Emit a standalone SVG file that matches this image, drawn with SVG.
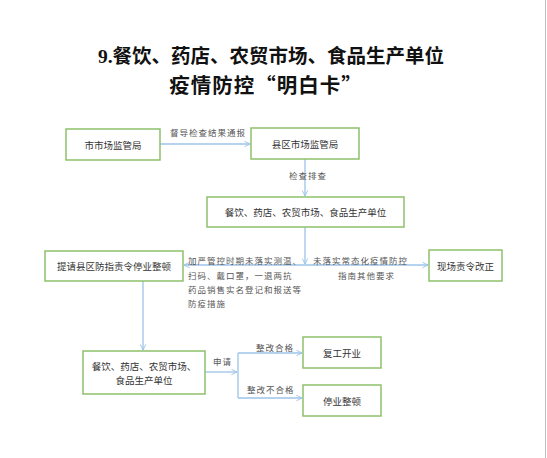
<svg xmlns="http://www.w3.org/2000/svg" width="547" height="458" viewBox="0 0 547 458">
<defs>
<style>
.box{fill:#fff;stroke:#8dc16a;stroke-width:1.5}
.ln{fill:none;stroke:#9cc3e8;stroke-width:1.3}
.t{font-family:"Noto Sans CJK SC","Liberation Serif",sans-serif;font-size:9.5px;fill:#333;text-anchor:middle;dominant-baseline:central}
.lb{font-family:"Noto Sans CJK SC","Liberation Serif",sans-serif;font-size:8.5px;fill:#555;letter-spacing:1px;dominant-baseline:central}
.ttl{font-family:"Liberation Serif","Noto Sans CJK SC",serif;font-weight:bold;fill:#111;text-anchor:middle}
.ttl2{font-family:"Noto Sans CJK SC",sans-serif;font-weight:bold;fill:#111;text-anchor:middle}
</style>
<marker id="ah" viewBox="0 0 10 10" refX="9" refY="5" markerWidth="7" markerHeight="7" orient="auto" markerUnits="userSpaceOnUse">
<polyline points="1,1 9,5 1,9" fill="none" stroke="#9cc3e8" stroke-width="1.3"/>
</marker>
</defs>
<rect width="547" height="458" fill="#fff"/>
<line x1="545.5" y1="0" x2="545.5" y2="458" stroke="#bdbdbd" stroke-width="1"/>
<g id="title">
<text class="ttl" x="271" y="63" font-size="19.5">9.餐饮、药店、农贸市场、食品生产单位</text>
<text class="ttl2" x="266" y="93" font-size="20.5" letter-spacing="1">疫情防控“明白卡”</text>
</g>
<g id="connectors">
<line class="ln" x1="160" y1="144" x2="250" y2="144" marker-end="url(#ah)"/>
<line class="ln" x1="305" y1="159" x2="305" y2="196" marker-end="url(#ah)"/>
<line class="ln" x1="305" y1="227" x2="305" y2="264" marker-end="url(#ah)"/>
<line class="ln" x1="305" y1="265" x2="184" y2="265" marker-end="url(#ah)"/>
<line class="ln" x1="305" y1="265" x2="428" y2="265" marker-end="url(#ah)"/>
<line class="ln" x1="143" y1="281" x2="143" y2="350" marker-end="url(#ah)"/>
<line class="ln" x1="205" y1="372" x2="237" y2="372" marker-end="url(#ah)"/>
<line class="ln" x1="238" y1="353" x2="238" y2="398"/>
<line class="ln" x1="238" y1="353" x2="302" y2="353" marker-end="url(#ah)"/>
<line class="ln" x1="238" y1="398" x2="302" y2="398" marker-end="url(#ah)"/>
<text class="lb" x="170" y="132">督导检查结果通报</text>
<text class="lb" x="289" y="175">检查排查</text>
<text class="lb" x="188" y="260">加严管控时期未落实测温、</text>
<text class="lb" x="188" y="275">扫码、戴口罩，一退两抗</text>
<text class="lb" x="188" y="289">药品销售实名登记和报送等</text>
<text class="lb" x="188" y="303">防疫措施</text>
<text class="lb" x="313" y="260">未落实常态化疫情防控</text>
<text class="lb" x="338" y="275">指南其他要求</text>
<text class="lb" x="213" y="361">申请</text>
<text class="lb" x="256" y="347">整改合格</text>
<text class="lb" x="247" y="389">整改不合格</text>
</g>
<g id="n1"><rect class="box" x="66" y="129" width="94" height="31"/><text class="t" x="113" y="144.5">市市场监管局</text></g>
<g id="n2"><rect class="box" x="251" y="128" width="108" height="31"/><text class="t" x="305" y="143.5">县区市场监管局</text></g>
<g id="n3"><rect class="box" x="207" y="197" width="197" height="30"/><text class="t" x="305.5" y="212">餐饮、药店、农贸市场、食品生产单位</text></g>
<g id="n4"><rect class="box" x="45" y="251" width="138" height="30"/><text class="t" x="114" y="266">提请县区防指责令停业整顿</text></g>
<g id="n5"><rect class="box" x="429" y="250" width="73" height="31"/><text class="t" x="465.5" y="265.5">现场责令改正</text></g>
<g id="n6"><rect class="box" x="83" y="351" width="122" height="43"/><text class="t" x="144" y="366">餐饮、药店、农贸市场、</text><text class="t" x="144" y="380">食品生产单位</text></g>
<g id="n7"><rect class="box" x="303" y="337" width="78" height="31"/><text class="t" x="342" y="352.5">复工开业</text></g>
<g id="n8"><rect class="box" x="303" y="385" width="78" height="31"/><text class="t" x="342" y="400.5">停业整顿</text></g>
</svg>
